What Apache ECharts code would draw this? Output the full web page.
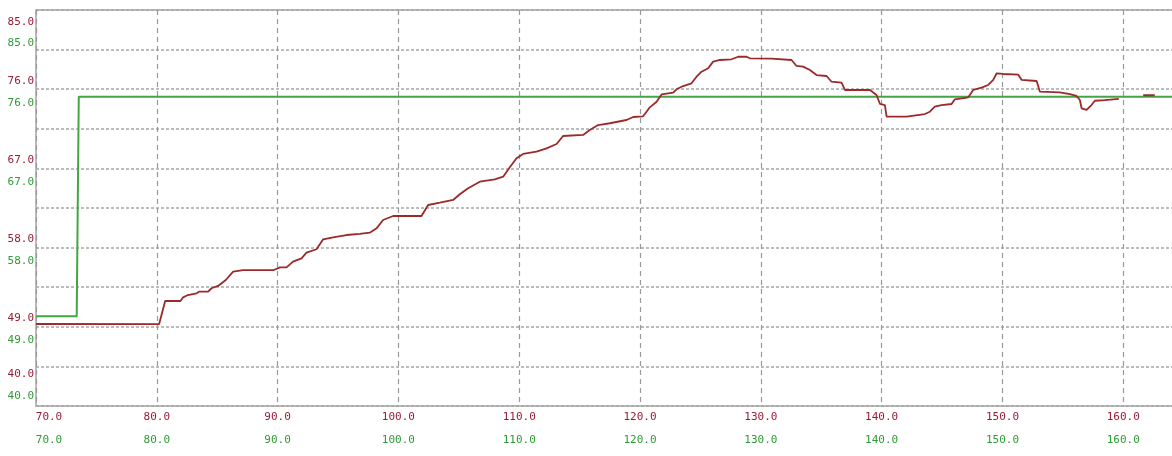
<!DOCTYPE html>
<html>
<head>
<meta charset="utf-8">
<script src="https://cdn.jsdelivr.net/npm/echarts@6/dist/echarts.min.js"></script>
<style>
html, body { margin: 0; padding: 0; background: #fff; }
#chart { width: 1172px; height: 456px; }
</style>
</head>
<body>
<div id="chart"></div>
<script>
// tick labels
const xTicks = [70, 80, 90, 100, 110, 120, 130, 140, 150, 160]
const yTicks = [40, 49, 58, 67, 76, 85]

// green series (set value)
const setX = [70, 73.37, 73.54, 164.2]
const setY = [50.2, 50.2, 75.15, 75.15]

// red series (measured value); null = gap in the trace
const actX = [
  70, 80.19, 80.69, 81.96, 82.18, 82.57, 83.29, 83.5, 84.25, 84.53,
  85.07, 85.71, 86.32, 87.14, 89.69, 90.18, 90.74, 91.28, 91.98, 92.39,
  93.22, 93.77, 94.59, 95.7, 96.8, 97.63, 98.19, 98.73, 99.56, 101.91,
  102.46, 103.43, 104.53, 105.08, 105.77, 106.74, 107.98, 108.67, 109.22, 109.78,
  110.32, 111.43, 112.26, 113.09, 113.63, 115.29, 115.84, 116.53, 117.5, 118.88,
  119.43, 120.26, 120.81, 121.37, 121.78, 122.74, 123.02, 123.57, 124.26, 124.68,
  125.09, 125.64, 126.05, 126.61, 127.57, 128.12, 128.82, 129.09, 130.89, 131.02,
  132.54, 132.96, 133.5, 134.06, 134.61, 135.44, 135.85, 136.68, 136.96, 139.03,
  139.58, 139.86, 140.27, 140.41, 142.06, 143.58, 143.99, 144.4, 144.96, 145.79,
  146.06, 147.17, 147.58, 148.27, 148.82, 149.24, 149.52, 150.07, 151.31, 151.59,
  152.83, 153.1, 154.75, 155.58, 156.13, 156.41, 156.55, 156.96, 157.37, 157.65,
  158.47, 159.63, 160.6, 161.65, 162.61
]
const actY = [
  49.32, 49.3, 51.93, 51.93, 52.35, 52.61, 52.81, 52.99, 52.99, 53.38,
  53.64, 54.32, 55.26, 55.45, 55.45, 55.76, 55.76, 56.4, 56.78, 57.42,
  57.81, 58.94, 59.17, 59.43, 59.55, 59.69, 60.19, 61.14, 61.59, 61.59,
  62.84, 63.1, 63.41, 64.06, 64.74, 65.49, 65.76, 66.06, 67.13, 68.15,
  68.64, 68.9, 69.28, 69.77, 70.68, 70.8, 71.36, 71.93, 72.13, 72.5,
  72.84, 72.92, 73.94, 74.58, 75.4, 75.6, 75.99, 76.36, 76.67, 77.42,
  77.99, 78.38, 79.13, 79.32, 79.4, 79.69, 79.69, 79.51, 79.47, 79.32,
  79.32, 78.64, 78.56, 78.18, 77.61, 77.5, 76.85, 76.74, 75.91, 75.91,
  75.34, 74.32, 74.2, 72.88, 72.88, 73.18, 73.44, 74.01, 74.2, 74.32,
  74.85, 75.08, 75.91, 76.17, 76.48, 77.05, 77.81, 77.73, 77.65, 77.05,
  76.93, 75.72, 75.65, 75.45, 75.23, 74.77, 73.83, 73.64, 74.2, 74.69,
  74.77, 74.89, null, 75.31, 75.31
]

const RED_TXT = '#9a1c34'
const GREEN_TXT = '#2f9a36'
const FONT = 'DejaVu Sans Mono'

function zip(xs, ys) {
  return xs.map((x, i) => [x, ys[i]])
}

function yLabel(v) {
  if (!yTicks.includes(v)) return ''
  const key = v === 85 ? 'top' : v === 40 ? 'bot' : 'mid'
  return `{${key}|${v.toFixed(1)}}`
}

function xLabel(v) {
  if (!xTicks.includes(v)) return ''
  const key = v === 70 ? 'first' : 'n'
  return `{${key}|${v.toFixed(1)}}`
}

function yAxisOf(color, pads, main) {
  const txt = { color: color, fontFamily: FONT, fontSize: 11 }
  return {
    type: 'value',
    position: 'left',
    min: 40,
    max: 85,
    interval: 4.5,
    axisLine: { show: false },
    axisTick: { show: false },
    splitLine: {
      show: main,
      lineStyle: { color: '#a6a6a6', type: [3, 2], width: 1.5 },
    },
    axisLabel: {
      margin: 2,
      formatter: yLabel,
      rich: {
        top: Object.assign({ padding: pads[0] }, txt),
        mid: Object.assign({ padding: pads[1] }, txt),
        bot: Object.assign({ padding: pads[2] }, txt),
      },
    },
  }
}

function xAxisOf(color, offset, main) {
  const txt = { color: color, fontFamily: FONT, fontSize: 11 }
  return {
    type: 'value',
    position: 'bottom',
    offset: offset,
    min: 70,
    max: 164.2,
    interval: 10,
    axisLine: { show: false },
    axisTick: { show: false },
    splitLine: {
      show: main,
      lineStyle: { color: '#999999', type: [5, 4], width: 1.2 },
    },
    axisLabel: {
      margin: 6,
      showMaxLabel: false,
      formatter: xLabel,
      rich: {
        first: Object.assign({ padding: [0, 0, 0, 26] }, txt),
        n: txt,
      },
    },
  }
}

const chart = echarts.init(document.getElementById('chart'))
chart.setOption({
  animation: false,
  backgroundColor: '#fff',
  grid: {
    left: 36,
    top: 10,
    right: -2,
    bottom: 50,
    show: true,
    borderColor: '#a4a4a4',
    borderWidth: 1.5,
    outerBoundsMode: 'none',
    containLabel: false,
  },
  xAxis: [
    xAxisOf(RED_TXT, 0, true),
    xAxisOf(GREEN_TXT, 23, false),
  ],
  yAxis: [
    yAxisOf(RED_TXT, [[24, 0, 0, 0], [0, 0, 17, 0], [0, 0, 64, 0]], true),
    yAxisOf(GREEN_TXT, [[66, 0, 0, 0], [27, 0, 0, 0], [0, 0, 20, 0]], false),
  ],
  series: [
    {
      name: 'set',
      type: 'line',
      data: zip(setX, setY),
      symbol: 'none',
      lineStyle: { color: '#45a445', width: 2 },
    },
    {
      name: 'actual',
      type: 'line',
      data: zip(actX, actY),
      symbol: 'none',
      connectNulls: false,
      lineStyle: { color: '#9b2a2a', width: 1.8 },
    },
  ],
})
</script>
</body>
</html>
